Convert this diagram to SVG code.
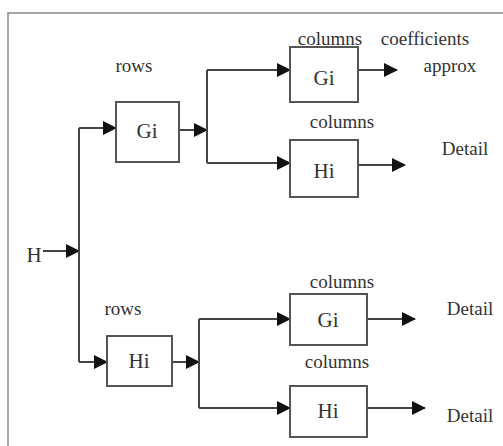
<svg xmlns="http://www.w3.org/2000/svg" width="503" height="446" viewBox="0 0 503 446">
<defs>
<style>
.box{fill:#fff;stroke:#555;stroke-width:2}
.ln{fill:none;stroke:#444;stroke-width:2}
.t{font-family:"Liberation Serif","Times New Roman",serif;font-size:19px;fill:#333;text-anchor:middle}
.b{font-size:21px}
</style>
<marker id="ah" markerUnits="userSpaceOnUse" markerWidth="14" markerHeight="14" refX="13" refY="7" orient="auto">
<path d="M0,0 L14,7 L0,14 Z" fill="#111"/>
</marker>
</defs>
<rect width="503" height="446" fill="#fff"/>
<rect x="8" y="13" width="520" height="450" fill="none" stroke="#888" stroke-width="1.5"/>
<g id="connectors">
<path class="ln" d="M43,251 H79" marker-end="url(#ah)"/>
<path class="ln" d="M79,128 V362"/>
<path class="ln" d="M79,128 H116" marker-end="url(#ah)"/>
<path class="ln" d="M79,362 H107" marker-end="url(#ah)"/>
<path class="ln" d="M179,130 H207" marker-end="url(#ah)"/>
<path class="ln" d="M207,70 V163"/>
<path class="ln" d="M207,70 H290" marker-end="url(#ah)"/>
<path class="ln" d="M207,163 H290" marker-end="url(#ah)"/>
<path class="ln" d="M358,70 H397" marker-end="url(#ah)"/>
<path class="ln" d="M358,165 H405" marker-end="url(#ah)"/>
<path class="ln" d="M172,362 H199" marker-end="url(#ah)"/>
<path class="ln" d="M199,319 V408"/>
<path class="ln" d="M199,319 H290" marker-end="url(#ah)"/>
<path class="ln" d="M199,408 H290" marker-end="url(#ah)"/>
<path class="ln" d="M367,319 H415" marker-end="url(#ah)"/>
<path class="ln" d="M367,408 H425" marker-end="url(#ah)"/>
</g>
<g id="input"><text class="t b" x="34" y="262" font-size="20">H</text></g>
<g id="rows-Gi">
<text class="t" x="134" y="72">rows</text>
<rect class="box" x="116" y="102" width="63" height="60"/>
<text class="t b" x="147" y="138">Gi</text>
</g>
<g id="rows-Hi">
<text class="t" x="123" y="315">rows</text>
<rect class="box" x="107" y="336" width="65" height="50"/>
<text class="t b" x="139" y="368">Hi</text>
</g>
<g id="col-Gi-1">
<text class="t" x="330" y="45">columns</text>
<rect class="box" x="290" y="47" width="68" height="55"/>
<text class="t b" x="324" y="85">Gi</text>
</g>
<g id="col-Hi-1">
<text class="t" x="342" y="128">columns</text>
<rect class="box" x="290" y="140" width="68" height="57"/>
<text class="t b" x="324" y="178">Hi</text>
</g>
<g id="col-Gi-2">
<text class="t" x="342" y="288">columns</text>
<rect class="box" x="290" y="294" width="77" height="51"/>
<text class="t b" x="328" y="327">Gi</text>
</g>
<g id="col-Hi-2">
<text class="t" x="337" y="368">columns</text>
<rect class="box" x="290" y="386" width="77" height="51"/>
<text class="t b" x="328" y="418">Hi</text>
</g>
<g id="outputs">
<text class="t" x="425" y="45">coefficients</text>
<text class="t" x="450" y="72">approx</text>
<text class="t" x="465" y="155">Detail</text>
<text class="t" x="470" y="315">Detail</text>
<text class="t" x="470" y="422">Detail</text>
</g>
</svg>
